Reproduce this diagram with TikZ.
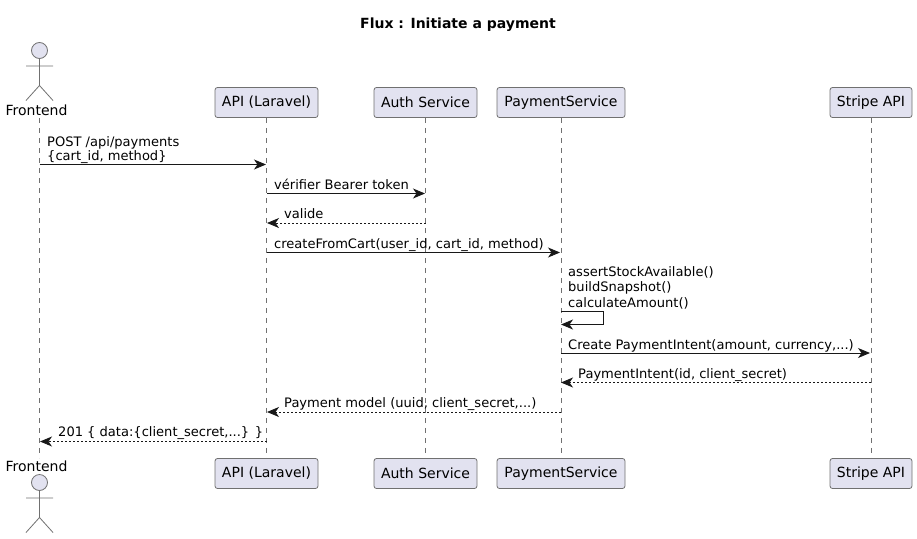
\documentclass[tikz,border=0pt]{standalone}
\usepackage{fontspec}
\setmainfont{DejaVu Sans}
\usetikzlibrary{arrows.meta}
\definecolor{pfill}{HTML}{E2E2F0}
\definecolor{pline}{HTML}{181818}
\definecolor{pthin}{HTML}{707070}
\tikzset{
  x=1pt,y=-1pt,
  part/.style={draw=pthin,line width=0.8pt,fill=pfill,rounded corners=2.5pt,minimum height=30pt,inner sep=0pt,anchor=center,font=\fontsize{14}{16}\selectfont},
  actorname/.style={inner sep=0pt,font=\fontsize{14}{16}\selectfont,anchor=base},
  actorline/.style={draw=pthin,line width=0.8pt},
  head/.style={circle,draw=pthin,line width=0.8pt,fill=pfill,minimum size=16pt,inner sep=0pt},
  life/.style={draw=pthin,line width=0.7pt,dash pattern=on 5pt off 5pt},
  msg/.style={draw=pline,line width=0.9pt,-{Stealth[length=12pt,width=10pt,inset=3.5pt,fill=pline]}},
  ret/.style={draw=pline,line width=0.9pt,dash pattern=on 2pt off 2pt,-{Stealth[length=12pt,width=10pt,inset=3.5pt,fill=pline]}},
  lbl/.style={inner sep=0pt,anchor=base west,font=\fontsize{13.05}{15}\selectfont},
}
\begin{document}
\begin{tikzpicture}
\useasboundingbox (0,0) rectangle (917,538);
\node[inner sep=0pt,anchor=base,font=\fontsize{14}{16}\selectfont\bfseries] (title) at (458,28) {Flux : Initiate a payment};
% participants
\node[part,minimum width=103pt] (apiT) at (266.5,102.5) {API (Laravel)};
\node[part,minimum width=103pt] (apiB) at (266.5,473.5) {API (Laravel)};
\node[part,minimum width=103pt] (authT) at (425.5,102.5) {Auth Service};
\node[part,minimum width=103pt] (authB) at (425.5,473.5) {Auth Service};
\node[part,minimum width=128pt] (payT) at (561,102.5) {PaymentService};
\node[part,minimum width=128pt] (payB) at (561,473.5) {PaymentService};
\node[part,minimum width=82pt] (strT) at (871,102.5) {Stripe API};
\node[part,minimum width=82pt] (strB) at (871,473.5) {Stripe API};
% actors
\node[head] (hT) at (39.5,50.5) {};
\coordinate (hipT) at (39.5,85.5);
\coordinate (armLT) at (26,66);
\coordinate (armRT) at (53,66);
\coordinate (legLT) at (26,100.5);
\coordinate (legRT) at (53,100.5);
\draw[actorline] (hT.south) -- (hipT) (armLT) -- (armRT) (legLT) -- (hipT) -- (legRT);
\node[actorname] (feT) at (36.5,115) {Frontend};
\node[actorname] (feB) at (36.5,471) {Frontend};
\node[head] (hB) at (39.5,482.5) {};
\coordinate (hipB) at (39.5,517.5);
\coordinate (armLB) at (26,498);
\coordinate (armRB) at (53,498);
\coordinate (legLB) at (26,532.5);
\coordinate (legRB) at (53,532.5);
\draw[actorline] (hB.south) -- (hipB) (armLB) -- (armRB) (legLB) -- (hipB) -- (legRB);
% lifelines
\coordinate (feL1) at (39.5,118);
\coordinate (feL2) at (39.5,458);
\draw[life] (feL1) -- (feL2);
\draw[life] (apiT.south) -- (apiB.north);
\draw[life] (authT.south) -- (authB.north);
\draw[life] (payT.south) -- (payB.north);
\draw[life] (strT.south) -- (strB.north);
% message anchors
\coordinate (f1) at (39.5,164.5);
\coordinate (a1) at (266,164.5);
\coordinate (a2) at (267,193.5);
\coordinate (u2) at (425,193.5);
\coordinate (u3) at (425.5,223);
\coordinate (a3) at (267,223);
\coordinate (a4) at (267,252.5);
\coordinate (p4) at (560,252.5);
\coordinate (p5a) at (561,311.5);
\coordinate (p5b) at (603.5,311.5);
\coordinate (p5c) at (603.5,324.5);
\coordinate (p5d) at (561,324.5);
\coordinate (p6) at (561,353);
\coordinate (s6) at (870,353);
\coordinate (s7) at (870.5,382.5);
\coordinate (p7) at (561,382.5);
\coordinate (p8) at (560.5,412);
\coordinate (a8) at (267,412);
\coordinate (a9) at (266.5,441.5);
\coordinate (f9) at (40,441.5);
% messages
\draw[msg] (f1) -- (a1);
\draw[msg] (a2) -- (u2);
\draw[ret] (u3) -- (a3);
\draw[msg] (a4) -- (p4);
\draw[msg] (p5a) -- (p5b) -- (p5c) -- (p5d);
\draw[msg] (p6) -- (s6);
\draw[ret] (s7) -- (p7);
\draw[ret] (p8) -- (a8);
\draw[ret] (a9) -- (f9);
% labels
\node[lbl] (t1a) at (47,146) {POST /api/payments};
\node[lbl] (t1b) at (47,160) {\{cart\_id, method\}};
\node[lbl] (t2) at (274,189) {vérifier Bearer token};
\node[lbl] (t3) at (284,218.5) {valide};
\node[lbl] (t4) at (274,248) {createFromCart(user\_id, cart\_id, method)};
\node[lbl] (t5a) at (568,276) {assertStockAvailable()};
\node[lbl] (t5b) at (568,291.5) {buildSnapshot()};
\node[lbl] (t5c) at (568,307) {calculateAmount()};
\node[lbl] (t6) at (568,349) {Create PaymentIntent(amount, currency,...)};
\node[lbl] (t7) at (578,378) {PaymentIntent(id, client\_secret)};
\node[lbl] (t8) at (284,407) {Payment model (uuid, client\_secret,...)};
\node[lbl] (t9) at (58,436) {201 \{ data:\{client\_secret,...\} \}};
\end{tikzpicture}
\end{document}
